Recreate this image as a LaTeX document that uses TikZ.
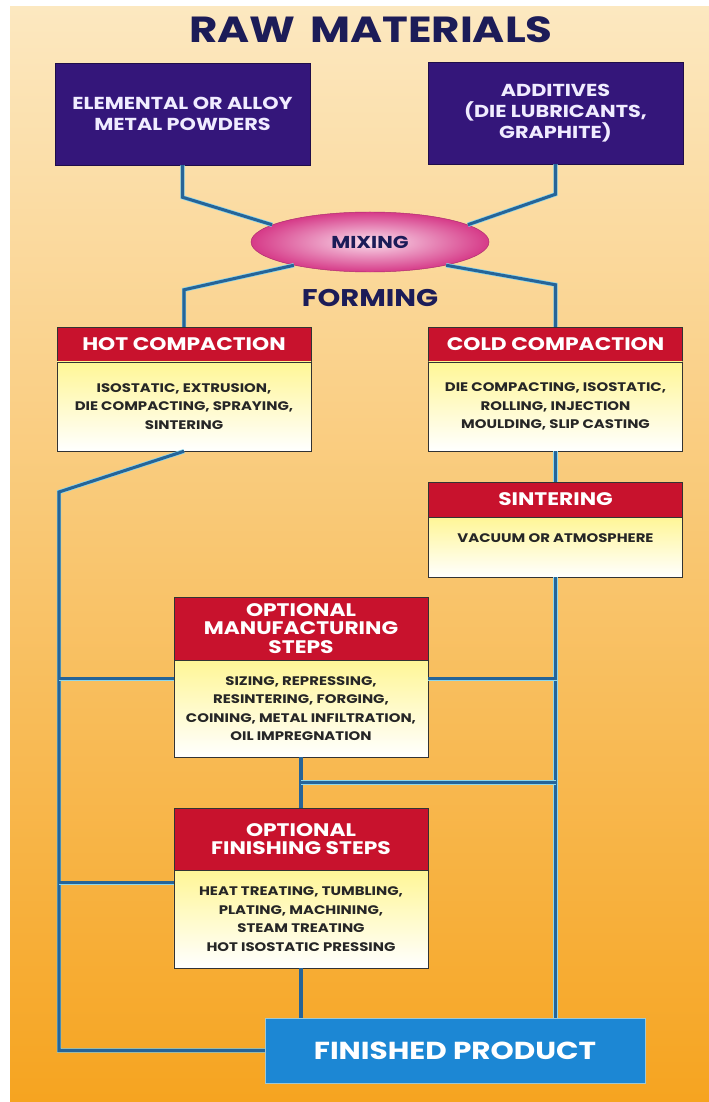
\documentclass[tikz,border=0pt]{standalone}
\usepackage{fontspec}
\setmainfont{Poppins}[FakeStretch=1.2]
\usetikzlibrary{positioning,calc,shapes.geometric}

\definecolor{bgtop}{RGB}{252,232,192}
\definecolor{bgmid}{RGB}{250,210,150}
\definecolor{bgbot}{RGB}{246,164,32}
\definecolor{rawpurple}{RGB}{52,22,122}
\definecolor{navy}{RGB}{28,28,88}
\definecolor{hdred}{RGB}{200,18,45}
\definecolor{bodyyel}{RGB}{255,246,150}
\definecolor{pipeblue}{RGB}{38,100,152}
\definecolor{pipeedge}{RGB}{140,215,235}
\definecolor{prodblue}{RGB}{28,135,212}
\definecolor{mixpink}{RGB}{214,58,136}
\definecolor{mixlight}{RGB}{250,222,236}

\tikzset{
  pipe/.style={draw=pipeedge, double=pipeblue, double distance=2.6pt, line width=0.6pt},
  rawbox/.style={draw=rawpurple!60!black, fill=rawpurple, text={rgb,255:red,240;green,236;blue,255},
    font=\bfseries\fontsize{14.8}{18}\selectfont, align=center, inner sep=0pt,
    minimum width=7.65cm, minimum height=3.06cm},
  headbox/.style={draw=black!80, fill=hdred, text=white, font=\bfseries\fontsize{15.5}{16}\selectfont,
    align=center, inner sep=0pt, minimum width=7.62cm},
  bodybox/.style={draw=black!80, top color=bodyyel, bottom color=white, text=black!85,
    font=\bfseries\fontsize{10.6}{15.8}\selectfont, align=center, inner sep=0pt, minimum width=7.62cm},
  mixer/.style={ellipse, draw=mixpink!80!black, inner color=mixlight, outer color=mixpink,
    font=\bfseries\fontsize{14.7}{16}\selectfont, text=navy, inner sep=0pt,
    minimum width=7.14cm, minimum height=1.8cm},
  prodbox/.style={draw={rgb,255:red,160;green,200;blue,210}, fill=prodblue, text=white,
    font=\bfseries\fontsize{21}{23}\selectfont, inner sep=0pt, minimum width=11.4cm, minimum height=1.95cm},
}

\begin{document}
\begin{tikzpicture}[x=0.03cm, y=-0.03cm]
  % page and background
  \useasboundingbox (0,0) rectangle (709,1102);
  \fill[white] (0,0) rectangle (709,1102);
  \shade[top color=bgtop, middle color=bgmid, bottom color=bgbot] (10,7) rectangle (709,1102);

  % raw materials
  \node[text=navy, font=\bfseries\fontsize{31}{33}\selectfont] (raw) at (371,30) {RAW\hspace{0.4em}MATERIALS};
  \node[rawbox] (metal) at (182.5,114) {ELEMENTAL OR ALLOY\\METAL POWDERS};
  \node[rawbox] (addit) at (555.5,113) {ADDITIVES\\(DIE LUBRICANTS,\\GRAPHITE)};
  \node[mixer] (mix) at (370,242) {MIXING};
  \node[text=navy, font=\bfseries\fontsize{20.6}{22}\selectfont] (form) at (370,298) {FORMING};

  % forming
  \node[headbox, minimum height=1.05cm] (hoth) at (184,344.5) {HOT COMPACTION};
  \node[bodybox, minimum height=2.67cm] (hotb) at (184,406.5) {ISOSTATIC, EXTRUSION,\\DIE COMPACTING, SPRAYING,\\SINTERING};
  \node[headbox, minimum height=1.05cm] (coldh) at (555.5,344.5) {COLD COMPACTION};
  \node[bodybox, minimum height=2.67cm] (coldb) at (555.5,406.5) {DIE COMPACTING, ISOSTATIC,\\ROLLING, INJECTION\\MOULDING, SLIP CASTING};
  \node[headbox, minimum height=1.05cm] (sinh) at (555.5,499.5) {SINTERING};
  \node[bodybox, minimum height=1.8cm] (sinb) at (555.5,547) {\raisebox{15pt}{VACUUM OR ATMOSPHERE}};

  % optional steps
  \node[headbox, minimum height=1.89cm] (manh) at (301,628.5) {OPTIONAL\\MANUFACTURING\\STEPS};
  \node[bodybox, minimum height=2.91cm] (manb) at (301,708.5) {SIZING, REPRESSING,\\RESINTERING, FORGING,\\COINING, METAL INFILTRATION,\\OIL IMPREGNATION};
  \node[headbox, minimum height=1.86cm] (finh) at (301,839) {OPTIONAL\\FINISHING STEPS};
  \node[bodybox, minimum height=2.94cm] (finb) at (301,919) {HEAT TREATING, TUMBLING,\\PLATING, MACHINING,\\STEAM TREATING\\HOT ISOSTATIC PRESSING};
  \node[prodbox] (fin) at (455,1050.5) {FINISHED PRODUCT};

  % pipes
  \draw[pipe] (metal.south) -- ++(0,32) -- (mix.170);
  \draw[pipe] (addit.south) -- ++(0,30) -- (mix.10);
  \draw[pipe] (hoth.north) -- ++(0,-37) -- (mix.197);
  \draw[pipe] (coldh.north) -- ++(0,-42) -- (mix.-17);
  \draw[pipe] (coldb.south) -- (sinh.north);
  \coordinate (rail) at (59,492);
  \draw[pipe] (hotb.south) -- (rail) |- (fin.west);
  \draw[pipe] (sinb.south) -- (sinb.south |- fin.north);
  \draw[pipe] ($(manb.north west)+(0,19)$) -- +(-115,0);
  \draw[pipe] ($(manb.north east)+(0,19)$) -- +(128.5,0);
  \draw[pipe] (manb.south) -- (finh.north);
  \coordinate (join) at ($(manb.south)!0.5!(finh.north)$);
  \draw[pipe] (join) -- (join -| sinb.south);
  \draw[pipe] ($(finb.north west)+(0,13)$) -- +(-115,0);
  \draw[pipe] (finb.south) -- (finb.south |- fin.north);
\end{tikzpicture}
\end{document}
